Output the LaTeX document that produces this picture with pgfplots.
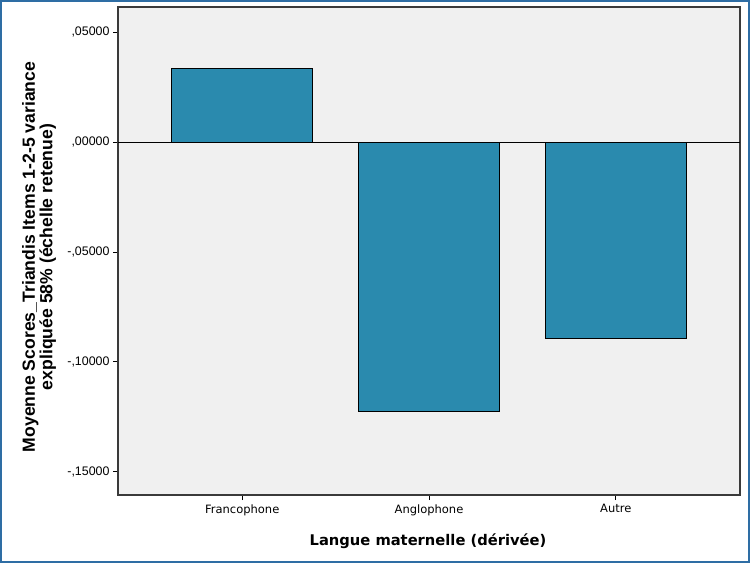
\documentclass[border=0pt]{standalone}
\usepackage{pgfplots}
\pgfplotsset{compat=1.18}
\usepackage{fontspec}
\setmainfont{Liberation Sans}
\newfontfamily\dejavu{DejaVu Sans}
\definecolor{barfill}{HTML}{2A8AAE}
\definecolor{plotbg}{HTML}{F0F0F0}
\definecolor{frameblue}{HTML}{2E6DA4}
\definecolor{axisgray}{HTML}{3A3A3A}
\begin{document}
\begin{tikzpicture}[x=1pt,y=1pt]
\path[use as bounding box] (0,0) rectangle (750,563);
\begin{axis}[
  at={(118pt,68pt)}, anchor=south west,
  scale only axis, width=622pt, height=488pt,
  xmin=-0.665, xmax=2.665, ymin=-0.1605, ymax=0.0614,
  axis background/.style={fill=plotbg},
  axis line style={axisgray, line width=1.3pt},
  xtick={0,1,2}, xticklabels={Francophone,Anglophone,Autre},
  ytick={-0.15,-0.1,-0.05,0,0.05},
  yticklabels={{-,15000},{-,10000},{-,05000},{,00000},{,05000}},
  xtick pos=bottom, ytick pos=left,
  tick align=outside, major tick length=5pt,
  tick style={black, line width=0.9pt},
  xticklabel style={font=\dejavu\fontsize{11.5}{13}\selectfont, yshift=-1pt},
  yticklabel style={font=\fontsize{12.4}{14}\selectfont},
  ybar, bar width=141pt,
]
\draw[black, line width=0.9pt] (axis cs:-0.665,0) -- (axis cs:2.665,0);
\addplot[fill=barfill, draw=black, line width=0.9pt] coordinates {(0,0.0336) (1,-0.1227) (2,-0.0891)};
\end{axis}
\node[rotate=90, align=center, font=\bfseries\fontsize{17.6}{17.5}\selectfont] at (39,306)
  {Moyenne Scores\_Triandis Items 1-2-5 variance\\expliquée 58\% (échelle retenue)};
\node[font=\dejavu\bfseries\fontsize{14.7}{17}\selectfont] at (428,22) {Langue maternelle (dérivée)};
\draw[frameblue, line width=2pt] (1,1) rectangle (749,562);
\end{tikzpicture}
\end{document}
